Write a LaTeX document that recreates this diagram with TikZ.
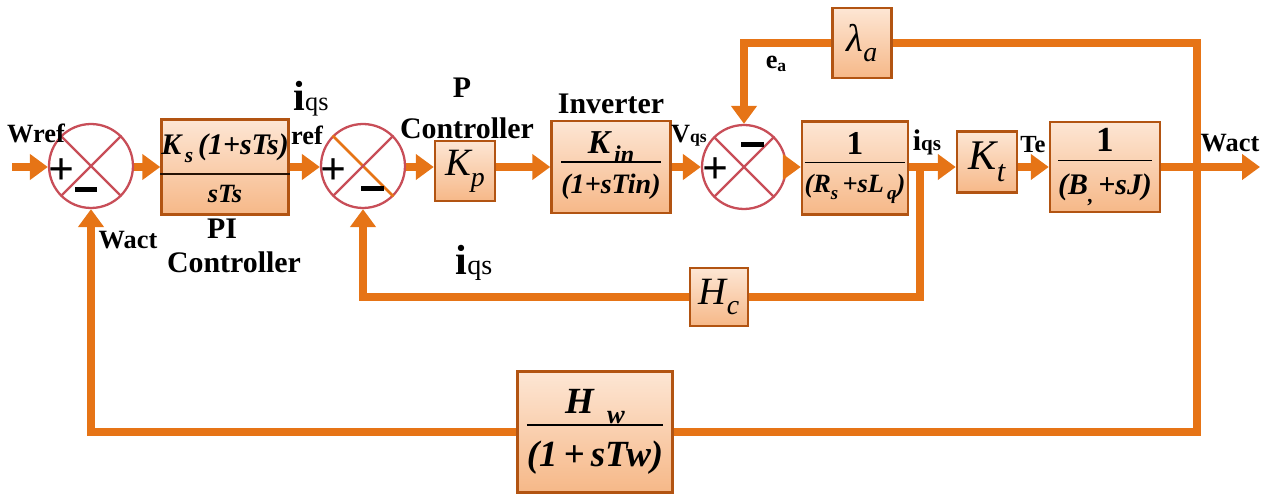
\documentclass[tikz,border=0pt]{standalone}
\usepackage{fontspec}
\usepackage{graphicx}
\setmainfont{Liberation Serif}
\usetikzlibrary{arrows.meta,calc}
\definecolor{orng}{RGB}{230,116,22}
\definecolor{bord}{RGB}{178,84,18}
\definecolor{ptop}{RGB}{253,230,212}
\definecolor{pbot}{RGB}{246,184,136}
\definecolor{sred}{RGB}{200,78,88}
\newcommand{\lo}[1]{\raisebox{-0.6ex}{\scalebox{0.72}{#1}}}
\newcommand{\fr}[2]{\setlength{\arrayrulewidth}{1pt}\begin{tabular}{@{}c@{}}#1\\[-1pt]\hline\rule{0pt}{1.1em}#2\end{tabular}}
\begin{document}
\begin{tikzpicture}[x=0.02cm,y=-0.02cm,
  flow/.style={draw=orng, line width=0.16cm, line join=miter},
  arr/.style={-{Triangle[length=0.36cm,width=0.5cm]}},
  blk/.style={draw=bord, line width=0.05cm, top color=ptop, bottom color=pbot, inner sep=1pt, align=center},
  sumnode/.style={circle, draw=sred, line width=1.3pt, fill=white, minimum size=1.68cm, inner sep=0pt},
  xline/.style={draw=sred, line width=1.3pt},
  lbl/.style={font=\fontsize{15}{17}\selectfont\bfseries, inner sep=0pt},
  big/.style={font=\fontsize{17}{19}\selectfont\bfseries, inner sep=0pt},
  mt/.style={font=\fontsize{17}{19}\selectfont\bfseries\itshape},
  pm/.style={font=\fontsize{26}{26}\selectfont\bfseries, inner sep=0pt},
  mn/.style={fill=black, minimum width=0.46cm, minimum height=0.1cm, inner sep=0pt}
]
\useasboundingbox (0,0) rectangle (1271,496);

% summing junctions
\node[sumnode] (s1) at (91,166) {};
\node[sumnode] (s2) at (363,166) {};
\node[sumnode] (s3) at (744,167) {};
\draw[xline] (s1.north west) -- (s1.south east);
\draw[xline] (s1.north east) -- (s1.south west);
\draw[draw=orng, line width=1.6pt] (s2.north west) -- (s2.south east);
\draw[xline] (s2.north east) -- (s2.south west);
\draw[xline] (s3.north west) -- (s3.south east);
\draw[xline] (s3.north east) -- (s3.south west);

% blocks
\node[blk, minimum width=2.54cm, minimum height=1.9cm] (pi) at (225,167) {};
\node[blk, minimum width=1.2cm, minimum height=1.2cm, font=\fontsize{22}{22}\selectfont\itshape] (kp) at (465,171) {K\lo{p}};
\node[blk, minimum width=2.38cm, minimum height=1.84cm, font=\fontsize{16}{18}\selectfont\bfseries\itshape] (inv) at (611,167) {\fr{\fontsize{19}{19}\selectfont K\lo{\,in}}{(1+sTin)}};
\node[blk, minimum width=2.12cm, minimum height=1.86cm, font=\fontsize{15}{17}\selectfont\bfseries] (rs) at (855,168) {\fr{\fontsize{19}{19}\selectfont 1}{\itshape (R\lo{s}\,+sL\lo{\,q})}};
\node[blk, minimum width=1.2cm, minimum height=1.22cm, font=\fontsize{24}{24}\selectfont\itshape] (kt) at (987,162) {K\lo{t}};
\node[blk, minimum width=2.2cm, minimum height=1.8cm, font=\fontsize{17}{19}\selectfont\bfseries] (bj) at (1105,167) {\fr{\fontsize{20}{20}\selectfont 1}{\itshape (B\lo{,}\,+sJ)}};
\node[blk, minimum width=1.18cm, minimum height=1.4cm, font=\fontsize{22}{22}\selectfont\itshape] (lam) at (862,43) {λ\lo{a}};
\node[blk, minimum width=1.16cm, minimum height=1.16cm, font=\fontsize{22}{22}\selectfont\itshape] (hc) at (719,297) {H\lo{c}};
\node[blk, minimum width=3.1cm, minimum height=2.42cm, font=\fontsize{21}{23}\selectfont\bfseries\itshape] (hw) at (595,432) {\fr{H\lo{\ \ w}}{(1\,+\,sTw)}};

% PI block contents
\node[mt] (pinum) at (225,148) {K\lo{\,s}\,(1+sTs)};
\node[mt, font=\fontsize{15}{17}\selectfont\bfseries\itshape] (piden) at (225,194) {sTs};
\draw[draw=black!80!bord, line width=1pt] ([yshift=-0.14cm]pi.west) -- ([yshift=-0.14cm]pi.east);

% coordinates
\coordinate (in) at (12,167);
\coordinate (p1) at (920,167);
\coordinate (p2) at (1197,167);
\coordinate (out) at (1260,167);

% forward path
\draw[flow,arr] (in) -- (in -| s1.west);
\draw[flow,arr] (s1.east |- in) -- (in -| pi.west);
\draw[flow,arr] (pi.east |- in) -- (in -| s2.west);
\draw[flow,arr] (s2.east |- in) -- (in -| kp.west);
\draw[flow,arr] (kp.east |- in) -- (in -| inv.west);
\draw[flow,arr] (inv.east |- in) -- (in -| s3.west);
\draw[flow,arr] (s3.east) -- (s3.east -| rs.west);
\draw[flow,arr] (rs.east |- in) -- (in -| kt.west);
\draw[flow,arr] (kt.east |- in) -- (in -| bj.west);
\draw[flow,arr] (bj.east |- in) -- (out);

% feedback paths
\draw[flow] (p2) |- (lam.east);
\draw[flow,arr] (lam.west) -| (s3.north);
\draw[flow] (p1) |- (hc.east);
\draw[flow,arr] (hc.west) -| (s2.south);
\draw[flow] (p2) |- (hw.east);
\draw[flow,arr] (hw.west) -| (s1.south);

% signs
\node[pm] (s1p) at (62,172) {+};
\node[mn] (s1m) at (86,190) {};
\node[pm] (s2p) at (334,172) {+};
\node[mn] (s2m) at (372,189) {};
\node[pm] (s3p) at (716,171) {+};
\node[mn] (s3m) at (752,145) {};

% labels
\node[lbl] (wref) at (36,133) {Wref};
\node[lbl] (wact1) at (128,240) {Wact};
\node[big] (pil) at (222,229) {PI};
\node[big] (pic) at (234,262) {Controller};
\node[inner sep=0pt] (iref) at (311,99) {\fontsize{24}{24}\selectfont\bfseries i\fontsize{15}{15}\selectfont\mdseries qs};
\node[lbl] (refl) at (307,135) {ref};
\node[big] (pl) at (462,88) {P};
\node[big] (pc) at (467,128) {Controller};
\node[big] (invl) at (611,104) {Inverter};
\node[inner sep=0pt] (vqs) at (689,136) {\fontsize{15}{15}\selectfont\bfseries V\fontsize{10}{10}\selectfont qs};
\node[inner sep=0pt] (ea) at (776,64) {\fontsize{15}{15}\selectfont\bfseries e\fontsize{10}{10}\selectfont\raisebox{-0.3ex}{a}};
\node[inner sep=0pt] (iqs2) at (927,142) {\fontsize{17}{17}\selectfont\bfseries i\fontsize{12}{12}\selectfont qs};
\node[inner sep=0pt] (te) at (1033,145) {\fontsize{14}{14}\selectfont\bfseries Te};
\node[lbl] (wact2) at (1230,143) {Wact};
\node[inner sep=0pt] (iqs3) at (474,263) {\fontsize{24}{24}\selectfont\bfseries i\fontsize{16}{16}\selectfont\mdseries qs};
\end{tikzpicture}
\end{document}
